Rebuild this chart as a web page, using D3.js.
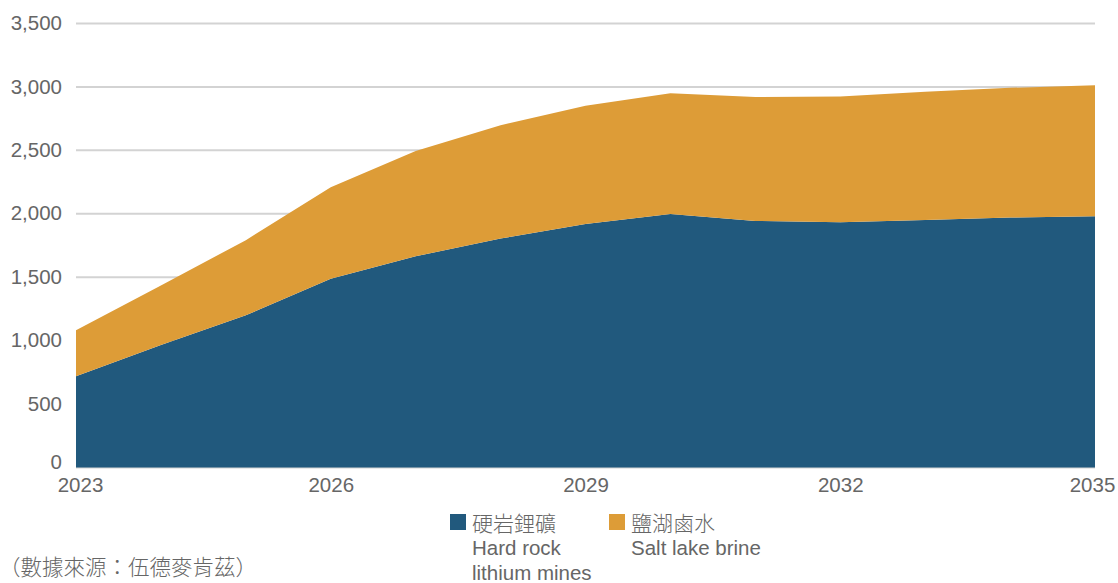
<!DOCTYPE html>
<html>
<head>
<meta charset="utf-8">
<script src="https://cdn.jsdelivr.net/npm/d3@7"></script>
<style>
  html, body { margin: 0; padding: 0; background: #fff; }
  svg { display: block; }
  text { font-family: "Liberation Sans", "Noto Sans CJK TC", sans-serif; fill: #666; }
  .cjk { font-family: "Noto Sans CJK TC", "Liberation Sans", sans-serif; font-weight: 300; }
</style>
</head>
<body>
<svg id="chart" width="1118" height="583"></svg>
<script>
// Lithium supply by source, 2023–2035
const years = [2023, 2024, 2025, 2026, 2027, 2028, 2029, 2030, 2031, 2032, 2033, 2034, 2035];
const hardRock = [720, 965, 1200, 1488, 1665, 1805, 1920, 1998, 1944, 1934, 1952, 1970, 1980];
const saltLake = [362, 470, 592, 722, 830, 893, 932, 952, 976, 990, 1010, 1023, 1034];
const yTicks = [0, 500, 1000, 1500, 2000, 2500, 3000, 3500];
const xTicks = [2023, 2026, 2029, 2032, 2035];
const seriesNames = [
  { key: "hardRock", zh: "硬岩鋰礦", en: ["Hard rock", "lithium mines"], color: "#21597d" },
  { key: "saltLake", zh: "鹽湖鹵水", en: ["Salt lake brine"], color: "#dd9c37" }
];
const sourceNote = "（數據來源：伍德麥肯茲）";

const svg = d3.select("#chart");
const x = d3.scaleLinear().domain([2023, 2035]).range([76, 1095]);
const y = d3.scaleLinear().domain([0, 3500]).range([467.5, 23.5]);

const rows = years.map((yr, i) => ({ year: yr, hardRock: hardRock[i], saltLake: saltLake[i] }));
const stack = d3.stack().keys(["hardRock", "saltLake"]);
const layers = stack(rows);

// gridlines
svg.append("g").selectAll("line")
  .data(yTicks)
  .join("line")
  .attr("x1", x(2023)).attr("x2", x(2035))
  .attr("y1", d => y(d)).attr("y2", d => y(d))
  .attr("stroke", "#d3d3d3").attr("stroke-width", 2);

// stacked areas
const area = d3.area()
  .x(d => x(d.data.year))
  .y0(d => y(d[0]))
  .y1(d => y(d[1]));

svg.append("g").selectAll("path")
  .data(layers)
  .join("path")
  .attr("d", area)
  .attr("fill", (d, i) => seriesNames[i].color);

// y axis labels
const yAxis = d3.axisLeft(y).tickValues(yTicks).tickFormat(d3.format(",")).tickSize(0).tickPadding(0);
const gy = svg.append("g").attr("transform", "translate(62,0)").call(yAxis);
gy.select(".domain").remove();
gy.selectAll("text")
  .attr("font-size", 20.5).attr("fill", "#666")
  .attr("font-family", "Liberation Sans, sans-serif")
  .attr("dy", d => d === 0 ? "0.05em" : "0.3em");

// x axis labels
const xAxis = d3.axisBottom(x).tickValues(xTicks).tickFormat(d3.format("d")).tickSize(0).tickPadding(0);
const gx = svg.append("g").attr("transform", "translate(0,477)").call(xAxis);
gx.select(".domain").remove();
gx.selectAll("text")
  .attr("font-size", 20.5).attr("fill", "#666")
  .attr("font-family", "Liberation Sans, sans-serif")
  .attr("dy", "0.72em")
  .attr("dx", d => d === 2023 ? 4 : (d === 2035 ? -3 : 0));

// legend
const legendX = [450, 609];
seriesNames.forEach((s, i) => {
  const g = svg.append("g").attr("transform", `translate(${legendX[i]},514)`);
  g.append("rect").attr("width", 16).attr("height", 16).attr("fill", s.color);
  g.append("text").attr("class", "cjk").attr("x", 22).attr("y", 17)
    .attr("font-size", 21).attr("fill", "#666").text(s.zh);
  s.en.forEach((t, j) => {
    g.append("text").attr("x", 22).attr("y", 41 + j * 25)
      .attr("font-size", 20.5).attr("fill", "#666").text(t);
  });
});

// source note
svg.append("text").attr("class", "cjk")
  .attr("x", -1).attr("y", 575)
  .attr("font-size", 21.5).attr("fill", "#777")
  .text(sourceNote);
</script>
</body>
</html>
